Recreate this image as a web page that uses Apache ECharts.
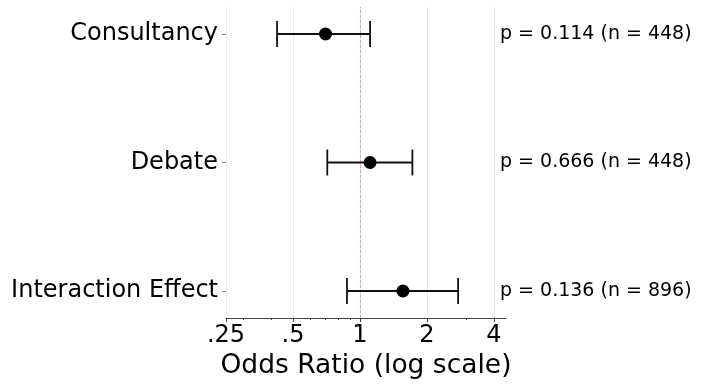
<!DOCTYPE html>
<html>
<head>
<meta charset="utf-8">
<script src="https://cdn.jsdelivr.net/npm/echarts@6/dist/echarts.min.js"></script>
<style>
    html, body { margin: 0; padding: 0; background: #fff; }
    #myChart { width: 713px; height: 386px; }
</style>
</head>
<body>
<div id="myChart"></div>
<script>
    // 数据
    const categories = ['Interaction Effect', 'Debate', 'Consultancy'];
    const oddsRatio = [1.56, 1.11, 0.70];
    const ciLow = [0.874, 0.713, 0.424];
    const ciHigh = [2.76, 1.72, 1.11];
    const pText = ['p = 0.136 (n = 896)', 'p = 0.666 (n = 448)', 'p = 0.114 (n = 448)'];
    const majorTicks = [0.25, 0.5, 1, 2, 4];
    const majorLabels = ['.25', '.5', '1', '2', '4'];
    const minorTicks = [0.3, 0.4, 0.6, 0.7, 0.8, 0.9, 3];

    const font = 'DejaVu Sans';
    const rows = categories.map((c, i) => i);

    let myChart = echarts.init(document.getElementById('myChart'));
    let option = {
        backgroundColor: '#fff',
        animation: false,
        textStyle: { fontFamily: font, color: '#000' },
        grid: { left: 226, right: 207, top: 7, bottom: 68 },
        xAxis: [{
            type: 'log',
            logBase: 2,
            min: 0.25,
            max: 4.53,
            name: 'Odds Ratio (log scale)',
            nameLocation: 'middle',
            nameGap: 30,
            nameTextStyle: { fontSize: 26.5, color: '#000', fontFamily: font },
            axisLine: { show: true, onZero: false, lineStyle: { color: '#444', width: 1.2 } },
            axisTick: { show: true, length: 4, customValues: majorTicks, lineStyle: { color: '#444' } },
            axisLabel: {
                customValues: majorTicks,
                fontSize: 24, color: '#000', margin: 6, fontFamily: font,
                formatter: v => majorLabels[majorTicks.findIndex(t => Math.abs(t - v) < 1e-6)]
            },
            splitLine: { show: false }
        }, {
            // 次刻度
            type: 'log',
            logBase: 2,
            min: 0.25,
            max: 4.53,
            position: 'bottom',
            axisLine: { show: false, onZero: false },
            axisTick: { show: true, length: 2, customValues: minorTicks, lineStyle: { color: '#444' } },
            axisLabel: { show: false },
            splitLine: { show: false }
        }],
        yAxis: [{
            type: 'value',
            min: -0.21,
            max: 2.21,
            axisLine: { show: false },
            axisTick: { show: true, length: 4, customValues: rows, lineStyle: { color: '#888' } },
            axisLabel: {
                customValues: rows,
                fontSize: 24, color: '#000', margin: 8, fontFamily: font,
                formatter: v => categories[Math.round(v)]
            },
            splitLine: { show: false }
        }, {
            type: 'value',
            min: -0.21,
            max: 2.21,
            position: 'right',
            axisLine: { show: false },
            axisTick: { show: false },
            axisLabel: {
                customValues: rows,
                fontSize: 19, color: '#000', margin: -6, align: 'left', fontFamily: font,
                formatter: v => pText[Math.round(v)]
            },
            splitLine: { show: false }
        }],
        series: [{
            // 网格线 + 参考线
            type: 'line',
            data: [],
            z: 0,
            markLine: {
                silent: true,
                z: 0,
                symbol: 'none',
                label: { show: false },
                data: majorTicks.map(t => ({
                    xAxis: t,
                    lineStyle: { color: '#e6e6e6', width: 1, type: 'solid' }
                })).concat([{
                    xAxis: 1,
                    lineStyle: { color: 'rgba(230,80,80,0.45)', width: 1, type: [3, 2] }
                }])
            }
        }, {
            // 置信区间
            type: 'custom',
            data: rows.map(i => [ciLow[i], ciHigh[i], i]),
            renderItem: function (params, api) {
                let y = api.value(2);
                let p1 = api.coord([api.value(0), y]);
                let p2 = api.coord([api.value(1), y]);
                let h = 13;
                let style = { stroke: '#111', lineWidth: 1.8 };
                return {
                    type: 'group',
                    children: [
                        { type: 'line', shape: { x1: p1[0], y1: p1[1], x2: p2[0], y2: p2[1] }, style: style },
                        { type: 'line', shape: { x1: p1[0], y1: p1[1] - h, x2: p1[0], y2: p1[1] + h }, style: style },
                        { type: 'line', shape: { x1: p2[0], y1: p2[1] - h, x2: p2[0], y2: p2[1] + h }, style: style }
                    ]
                };
            },
            z: 3
        }, {
            type: 'scatter',
            data: rows.map(i => [oddsRatio[i], i]),
            symbol: 'circle',
            symbolSize: 13,
            itemStyle: { color: '#000', opacity: 1 },
            z: 4
        }]
    };
    myChart.setOption(option);
</script>
</body>
</html>
